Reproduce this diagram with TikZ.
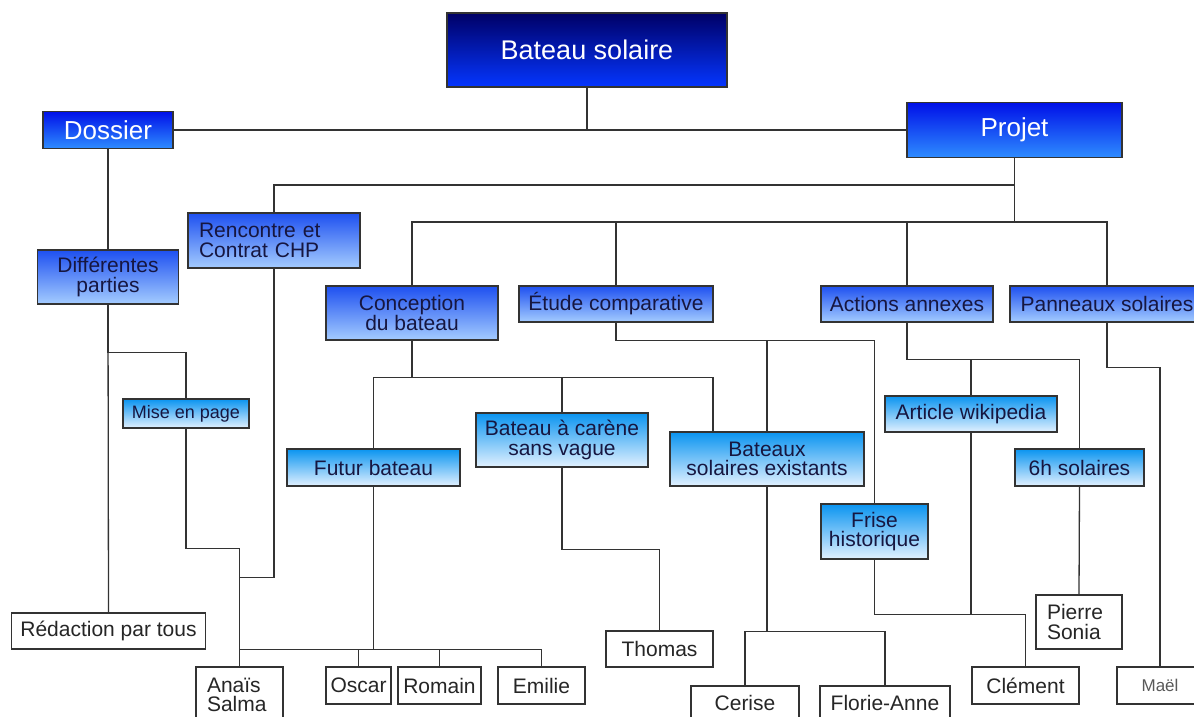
\documentclass[tikz,border=0pt]{standalone}
\usepackage{fontspec}
\setmainfont{Liberation Sans}

\definecolor{trait}{HTML}{333333}
\definecolor{encre}{HTML}{161640}
\definecolor{navyhaut}{HTML}{000066}
\definecolor{navybas}{HTML}{0536FF}
\definecolor{bleuhaut}{HTML}{0010E8}
\definecolor{bleubas}{HTML}{2E8CFF}
\definecolor{moyenhaut}{HTML}{1E50F0}
\definecolor{moyenbas}{HTML}{A4CCFF}
\definecolor{cielhaut}{HTML}{0A94F0}
\definecolor{cielbas}{HTML}{E2F1FF}

\tikzset{
	lien/.style={draw=trait, line width=1.3pt},
	boite/.style={draw=trait, line width=1.2pt, inner sep=0pt, align=center, text=encre, font=\fontsize{21}{19.5}\selectfont},
	racine/.style={boite, top color=navyhaut, bottom color=navybas, text=white, font=\fontsize{27}{30}\selectfont},
	branche/.style={boite, top color=bleuhaut, bottom color=bleubas, text=white, font=\fontsize{26}{28}\selectfont},
	theme/.style={boite, top color=moyenhaut, bottom color=moyenbas},
	tache/.style={boite, top color=cielhaut, bottom color=cielbas},
	eleve/.style={boite, fill=white, text=black!85},
	agauche/.style={align=left, inner xsep=11pt, text width=#1}
}

\begin{document}
\begin{tikzpicture}[x=1pt, y=-1pt]
	\path[use as bounding box, fill=white] (0,0) rectangle (1194,717);

	\node[racine, minimum width=280pt, minimum height=74pt] (bateau) at (587,50) {Bateau solaire};
	\node[branche, minimum width=130pt, minimum height=37pt] (dossier) at (108,130) {Dossier};
	\node[branche, minimum width=215pt, minimum height=55pt] (projet) at (1014.5,130) {Projet};

	\node[theme, minimum width=141pt, minimum height=54pt] (diff) at (108,277) {Différentes\\parties};
	\node[theme, minimum height=55pt, agauche=150pt] (rencontre) at (274,240.5) {Rencontre et\\Contrat CHP};
	\node[theme, minimum width=172pt, minimum height=54pt] (concept) at (412,313) {Conception\\du bateau};
	\node[theme, minimum width=194pt, minimum height=36pt] (etude) at (616,304) {Étude comparative};
	\node[theme, minimum width=172pt, minimum height=36pt] (actions) at (907,304) {Actions annexes};
	\node[theme, minimum width=194pt, minimum height=36pt] (panneaux) at (1107,304) {Panneaux solaires};

	\node[tache, minimum width=126pt, minimum height=29pt, font=\fontsize{18}{20}\selectfont] (mise) at (186,413.5) {Mise en page};
	\node[tache, minimum width=173pt, minimum height=37pt] (futur) at (373.5,467.5) {Futur bateau};
	\node[tache, minimum width=172pt, minimum height=54pt] (carene) at (562,440) {Bateau à carène\\sans vague};
	\node[tache, minimum width=194pt, minimum height=54pt] (existants) at (767,459) {Bateaux\\solaires existants};
	\node[tache, minimum width=107pt, minimum height=55pt] (frise) at (874.5,531.5) {Frise\\historique};
	\node[tache, minimum width=172pt, minimum height=36pt] (article) at (971,414) {Article wikipedia};
	\node[tache, minimum width=129pt, minimum height=37pt] (sixh) at (1079.5,467.5) {6h solaires};

	\node[eleve, minimum width=194pt, minimum height=36pt] (redaction) at (108.5,631) {Rédaction par tous};
	\node[eleve, minimum height=56pt, agauche=65pt] (anais) at (239.5,695) {Anaïs\\Salma};
	\node[eleve, minimum width=65pt, minimum height=37pt] (oscar) at (358.5,685.5) {Oscar};
	\node[eleve, minimum width=83pt, minimum height=37pt] (romain) at (439.5,685.5) {Romain};
	\node[eleve, minimum width=87pt, minimum height=37pt] (emilie) at (541.5,685.5) {Emilie};
	\node[eleve, minimum width=107pt, minimum height=36pt] (thomas) at (659.5,649) {Thomas};
	\node[eleve, minimum width=108pt, minimum height=34pt] (cerise) at (745,703) {Cerise};
	\node[eleve, minimum width=130pt, minimum height=34pt] (florie) at (885,703) {Florie-Anne};
	\node[eleve, minimum width=107pt, minimum height=37pt] (clement) at (1025.5,685.5) {Clément};
	\node[eleve, minimum height=54pt, agauche=64pt] (pierre) at (1079,622) {Pierre\\Sonia};
	\node[eleve, minimum width=86pt, minimum height=37pt, text=black!65, font=\fontsize{17}{19}\selectfont] (mael) at (1160,685.5) {Maël};

	\draw[lien] (bateau.south) |- (dossier.east);
	\draw[lien] (bateau.south) |- (projet.west);

	\draw[lien] (projet.south) -- ++(0,27) -| (rencontre.north);
	\draw[lien] (projet.south) -- ++(0,64) coordinate (busP);
	\foreach \n in {concept,etude,actions,panneaux}
		\draw[lien] (busP) -| (\n.north);

	\draw[lien] (dossier.south) -- (diff.north);
	\draw[lien] (diff.south) -- (redaction.north);
	\draw[lien] (diff.south) -- ++(0,48) -| (mise.north);
	\draw[lien] (mise.south) -- ++(0,120) -| (anais.north);
	\draw[lien] (rencontre.south) -- ++(0,309) -| (anais.north);

	\draw[lien] (concept.south) -- ++(0,37) coordinate (busC);
	\draw[lien] (busC) -| (futur.north);
	\draw[lien] (busC) -| (carene.north);
	\draw[lien] (busC) -| ([xshift=-54pt]existants.north);

	\draw[lien] (futur.south) -- ++(0,163) coordinate (busF);
	\foreach \n in {anais,oscar,romain,emilie}
		\draw[lien] (busF) -| (\n.north);

	\draw[lien] (carene.south) -- ++(0,82) -| (thomas.north);

	\draw[lien] (etude.south) -- ++(0,18) coordinate (busE) -| (frise.north);
	\draw[lien] (busE) -| (existants.north);
	\draw[lien] (existants.south) -- ++(0,145) coordinate (busX);
	\draw[lien] (busX) -| (cerise.north);
	\draw[lien] (busX) -| (florie.north);

	\draw[lien] (frise.south) -- ++(0,55) coordinate (busW) -| (clement.north);
	\draw[lien] (article.south) -- (article.south |- busW);

	\draw[lien] (actions.south) -- ++(0,37) coordinate (busA) -| (sixh.north);
	\draw[lien] (busA) -| (article.north);
	\draw[lien] (sixh.south) -- (pierre.north);

	\draw[lien] (panneaux.south) -- ++(0,45) -| (mael.north);
\end{tikzpicture}
\end{document}
